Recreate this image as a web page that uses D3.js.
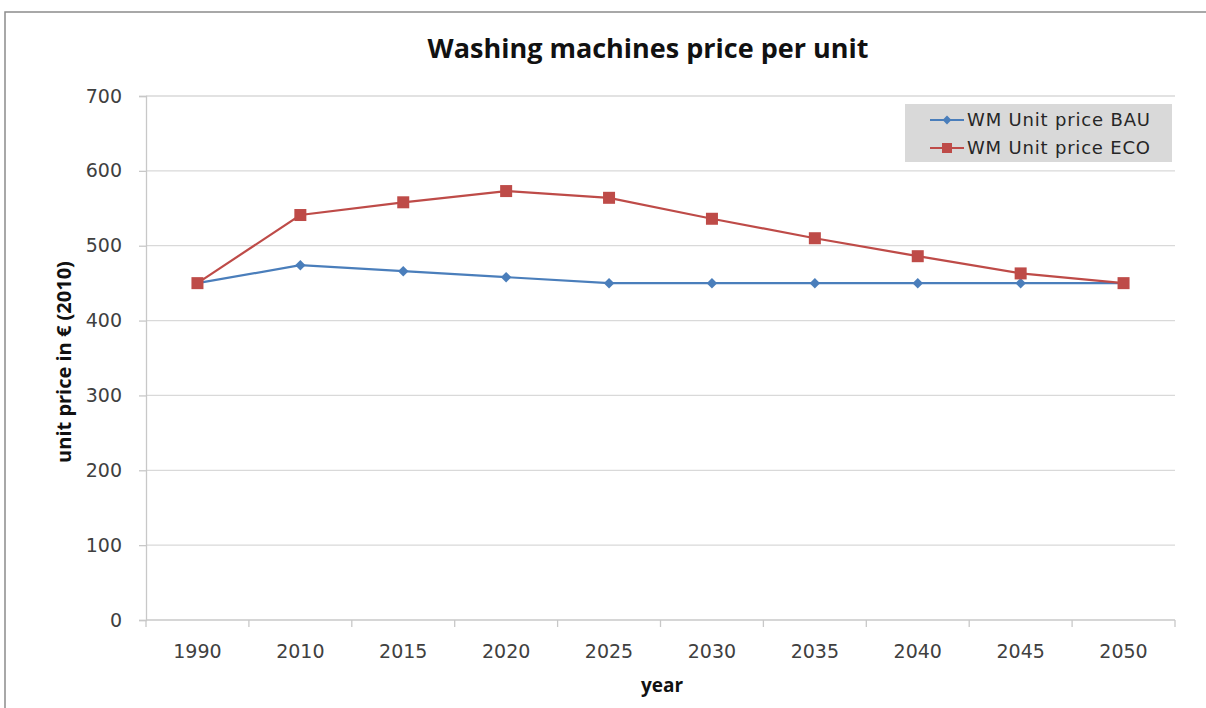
<!DOCTYPE html>
<html lang="en">
<head>
  <meta charset="UTF-8" />
  <title>Washing machines price per unit</title>
  <script src="https://d3js.org/d3.v7.min.js"></script>
  <style>
    body { margin: 0; background: #fff; font-family: "DejaVu Sans", sans-serif; }
    .grid line { stroke: #d9d9d9; stroke-width: 1.3; }
    .tick text { fill: #404040; }
  </style>
</head>
<body>
  <svg id="chart" width="1206" height="708"></svg>

  <script>
    const years = ["1990", "2010", "2015", "2020", "2025", "2030", "2035", "2040", "2045", "2050"];
    const bau = [450, 474, 466, 458, 450, 450, 450, 450, 450, 450];
    const eco = [450, 541, 558, 573, 564, 536, 510, 486, 463, 450];
    const yTicks = [0, 100, 200, 300, 400, 500, 600, 700];
    const seriesNames = ["WM Unit price BAU", "WM Unit price ECO"];

    const svg = d3.select("#chart");
    const margin = { left: 146, right: 1175, top: 96, bottom: 620 };

    // outer chart frame (only top and left edges are visible)
    svg.append("rect")
      .attr("x", 5).attr("y", 12)
      .attr("width", 1240).attr("height", 760)
      .attr("fill", "#fff")
      .attr("stroke", "#8c8c8c")
      .attr("stroke-width", 1.5);

    const x = d3.scaleBand().domain(years).range([margin.left, margin.right]);
    const y = d3.scaleLinear().domain([0, 700]).range([margin.bottom, margin.top]);

    // horizontal gridlines
    svg.append("g").attr("class", "grid")
      .selectAll("line")
      .data(yTicks.filter(d => d > 0))
      .join("line")
      .attr("x1", margin.left).attr("x2", margin.right)
      .attr("y1", d => y(d)).attr("y2", d => y(d));

    // y axis
    const yAxis = svg.append("g")
      .attr("transform", `translate(${margin.left},0)`)
      .call(d3.axisLeft(y).tickValues(yTicks).tickSize(7).tickPadding(17));
    yAxis.select(".domain").attr("stroke", "#c8c8c8").attr("stroke-width", 1.3);
    yAxis.selectAll(".tick line").attr("stroke", "#c8c8c8").attr("stroke-width", 1.3);
    yAxis.selectAll(".tick text").attr("font-size", 19).attr("font-family", "DejaVu Sans");

    // x axis, ticks between categories
    const xAxisG = svg.append("g").attr("transform", `translate(0,${margin.bottom})`);
    xAxisG.append("line")
      .attr("x1", margin.left).attr("x2", margin.right)
      .attr("stroke", "#c8c8c8").attr("stroke-width", 1.3);
    const bounds = years.map(d => x(d)).concat([margin.right]);
    xAxisG.selectAll("line.tk")
      .data(bounds)
      .join("line")
      .attr("class", "tk")
      .attr("x1", d => d).attr("x2", d => d)
      .attr("y1", 0).attr("y2", 7)
      .attr("stroke", "#c8c8c8").attr("stroke-width", 1.3);
    xAxisG.selectAll("text")
      .data(years)
      .join("text")
      .attr("x", d => x(d) + x.bandwidth() / 2)
      .attr("y", 38)
      .attr("text-anchor", "middle")
      .attr("font-size", 19)
      .attr("fill", "#404040")
      .text(d => d);

    const cx = d => x(d) + x.bandwidth() / 2;
    const line = d3.line().x(d => cx(d[0])).y(d => y(d[1]));

    // BAU series
    const bauData = years.map((yr, i) => [yr, bau[i]]);
    svg.append("path")
      .datum(bauData)
      .attr("d", line)
      .attr("fill", "none")
      .attr("stroke", "#4a7ebb")
      .attr("stroke-width", 2.2);
    svg.append("g").selectAll("path")
      .data(bauData)
      .join("path")
      .attr("d", d3.symbol(d3.symbolDiamond2, 70))
      .attr("transform", d => `translate(${cx(d[0])},${y(d[1])})`)
      .attr("fill", "#4a7ebb");

    // ECO series
    const ecoData = years.map((yr, i) => [yr, eco[i]]);
    svg.append("path")
      .datum(ecoData)
      .attr("d", line)
      .attr("fill", "none")
      .attr("stroke", "#be4b48")
      .attr("stroke-width", 2.2);
    svg.append("g").selectAll("rect")
      .data(ecoData)
      .join("rect")
      .attr("x", d => cx(d[0]) - 6)
      .attr("y", d => y(d[1]) - 6)
      .attr("width", 12).attr("height", 12)
      .attr("fill", "#be4b48");

    // legend
    const legend = svg.append("g");
    legend.append("rect")
      .attr("x", 905).attr("y", 104)
      .attr("width", 267).attr("height", 58)
      .attr("fill", "#d9d9d9");
    const colors = ["#4a7ebb", "#be4b48"];
    seriesNames.forEach((name, i) => {
      const ly = 120 + i * 28;
      legend.append("line")
        .attr("x1", 930).attr("x2", 964)
        .attr("y1", ly).attr("y2", ly)
        .attr("stroke", colors[i]).attr("stroke-width", 2.2);
      if (i === 0) {
        legend.append("path")
          .attr("d", d3.symbol(d3.symbolDiamond2, 50))
          .attr("transform", `translate(947,${ly})`)
          .attr("fill", colors[i]);
      } else {
        legend.append("rect")
          .attr("x", 942).attr("y", ly - 5)
          .attr("width", 10).attr("height", 10)
          .attr("fill", colors[i]);
      }
      legend.append("text")
        .attr("x", 967).attr("y", ly + 6)
        .attr("font-size", 18)
        .attr("fill", "#262626")
        .attr("textLength", 183)
        .text(name);
    });

    // titles
    svg.append("text")
      .attr("x", 648).attr("y", 58)
      .attr("text-anchor", "middle")
      .attr("font-family", "Open Sans")
      .attr("font-weight", "bold")
      .attr("font-size", 27)
      .attr("fill", "#111")
      .text("Washing machines price per unit");

    svg.append("text")
      .attr("x", 662).attr("y", 692)
      .attr("text-anchor", "middle")
      .attr("font-family", "Open Sans")
      .attr("font-weight", "bold")
      .attr("font-size", 19)
      .attr("fill", "#111")
      .text("year");

    svg.append("text")
      .attr("transform", "translate(71,362) rotate(-90)")
      .attr("text-anchor", "middle")
      .attr("font-family", "Open Sans")
      .attr("font-weight", "bold")
      .attr("font-size", 20)
      .attr("fill", "#111")
      .text("unit price in € (2010)");
  </script>
</body>
</html>
